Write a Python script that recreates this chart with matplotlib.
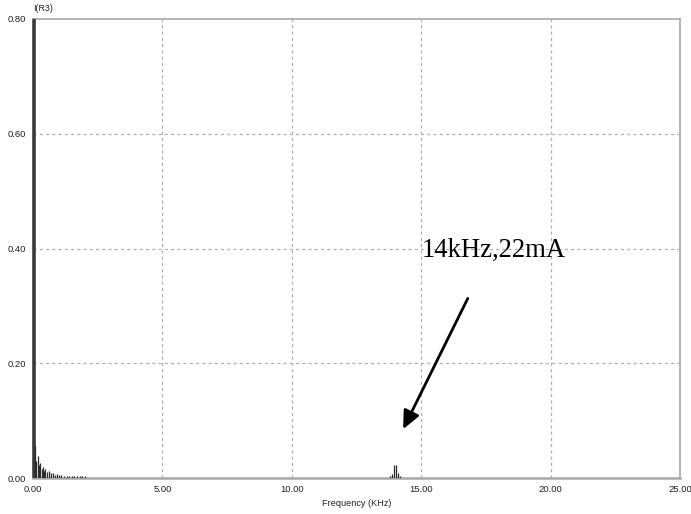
import matplotlib
matplotlib.use("Agg")
import matplotlib.pyplot as plt

# Spectrum of I(R3): low-frequency harmonics near DC
low_freq = [0.02, 0.08, 0.13, 0.18, 0.23, 0.28, 0.33, 0.38, 0.43, 0.48, 0.55, 0.62,
            0.70, 0.78, 0.86, 0.94, 1.02, 1.10, 1.20, 1.30, 1.40, 1.50, 1.60, 1.70,
            1.80, 1.90, 2.00]
low_amp = [0.80, 0.055, 0.030, 0.038, 0.022, 0.027, 0.016, 0.020, 0.012, 0.015, 0.010, 0.012,
           0.008, 0.009, 0.006, 0.007, 0.005, 0.005, 0.004, 0.004, 0.003, 0.003, 0.003, 0.003,
           0.003, 0.003, 0.003]

# Switching-frequency cluster around 14 kHz
sw_freq = [13.79, 13.87, 13.95, 14.03, 14.10, 14.18]
sw_amp = [0.004, 0.007, 0.022, 0.022, 0.009, 0.004]

x_ticks = [0, 5, 10, 15, 20, 25]
y_ticks = [0.0, 0.2, 0.4, 0.6, 0.8]

fig = plt.figure(figsize=(6.91, 5.14), dpi=100)
ax = fig.add_axes([33 / 691, 1 - 478 / 514, 647 / 691, 459 / 514])

grid_kw = dict(color="#b0b0b0", linewidth=0.9, linestyle=(0, (2.5, 2.5)), zorder=0)
for xv in x_ticks[1:-1]:
    ax.axvline(xv, **grid_kw)
for yv in y_ticks[1:-1]:
    ax.axhline(yv, **grid_kw)

# DC component drawn heavier
ax.vlines(low_freq[:1], 0, low_amp[:1], color="#3a3a3a", linewidth=2.6, zorder=3)
ax.vlines(low_freq[1:], 0, low_amp[1:], color="#2a2a2a", linewidth=0.9, zorder=3)
ax.vlines(sw_freq, 0, sw_amp, color="#2a2a2a", linewidth=0.9, zorder=3)

ax.set_xlim(0, 25)
ax.set_ylim(0, 0.8)
ax.set_xticks(x_ticks)
ax.set_yticks(y_ticks)
ax.set_xticklabels([f"{v:.2f}" for v in x_ticks])
ax.set_yticklabels([f"{v:.2f}" for v in y_ticks])
ax.tick_params(length=0, labelsize=6.8, labelcolor="#222222", pad=5)
for lab in ax.get_xticklabels() + ax.get_yticklabels():
    lab.set_family("Liberation Sans")

for side in ["top", "right", "bottom"]:
    ax.spines[side].set_color("#a8a8a8")
    ax.spines[side].set_linewidth(1.2)
ax.spines["bottom"].set_linewidth(1.8)
ax.spines["left"].set_color("#404040")
ax.spines["left"].set_linewidth(1.2)

ax.set_xlabel("Frequency (KHz)", fontsize=6.6, family="Liberation Sans",
              color="#222222", labelpad=4)
ax.text(0.0, 1.012, "I(R3)", transform=ax.transAxes, fontsize=6.4,
        family="Liberation Sans", color="#222222", ha="left", va="bottom")

ax.text(15.0, 0.397, "14kHz,22mA", fontsize=19.2, family="Liberation Serif",
        color="black", ha="left", va="center")
ax.annotate("", xy=(14.3, 0.085), xytext=(16.8, 0.313),
            arrowprops=dict(arrowstyle="-|>,head_length=1.1,head_width=0.5",
                            color="black", linewidth=2.0, shrinkA=0, shrinkB=0))

fig.savefig("out.png", dpi=100)
